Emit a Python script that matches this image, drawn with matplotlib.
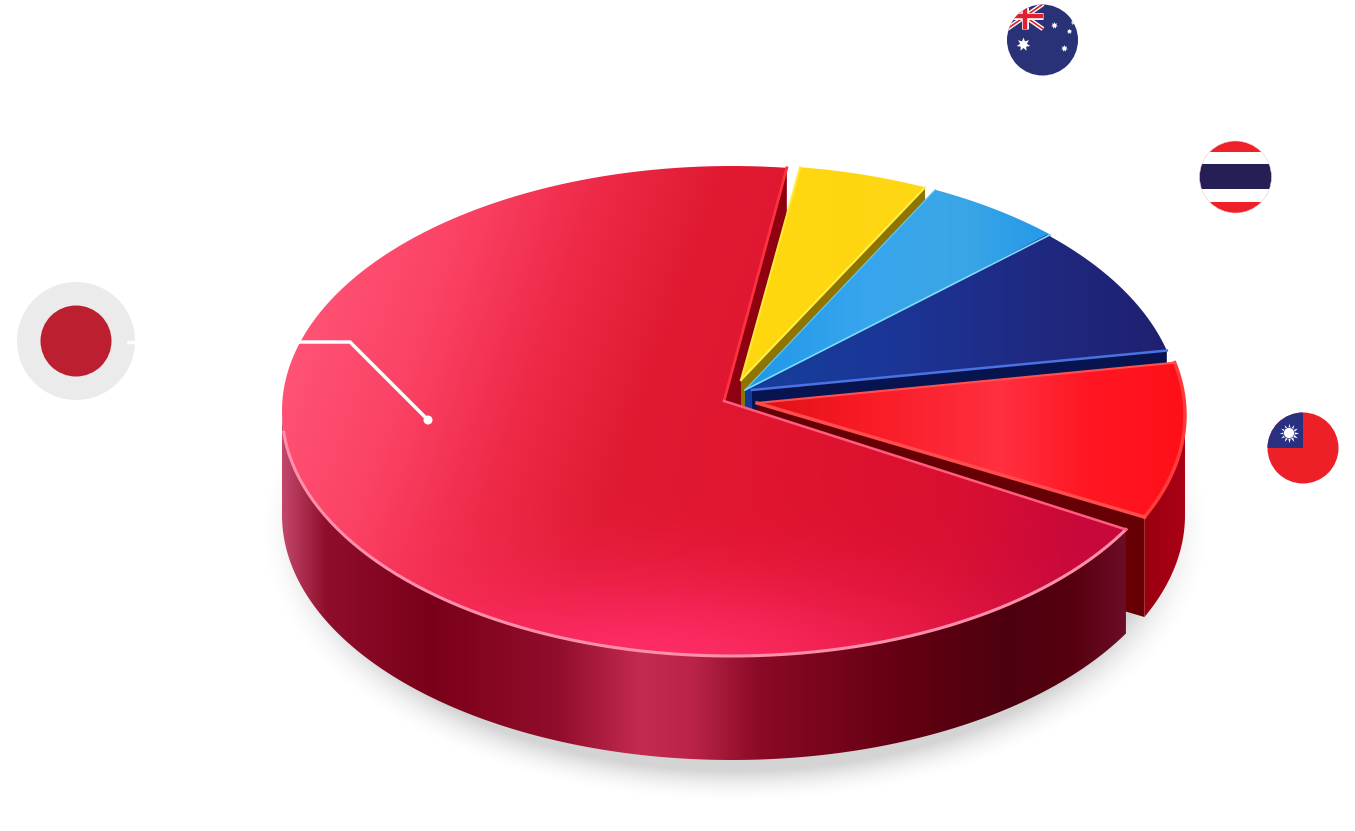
import numpy as np
import matplotlib
matplotlib.use('Agg')
import matplotlib.pyplot as plt
from matplotlib.colors import to_rgb
from matplotlib.patches import Circle, Polygon, Rectangle

# pie data, going counter clockwise from the top edge of the big slice
slices = ['Japan', 'Taiwan', 'Other', 'Thailand', 'Australia']
shares = [70.5, 10.5, 9.0, 5.2, 4.8]
gaps = [0.0, 4.3, 1.7, 0.0, 1.3]
last_gap = 0.8

W, H = 1355, 831
START = 83.0
RY = 245

# layout of each slice in pixels
apex = {'Japan': (724, 401), 'Taiwan': (757, 403), 'Other': (752, 390),
        'Thailand': (745, 390), 'Australia': (741, 380)}
centre = {'Japan': (732, 411), 'Taiwan': (738, 415), 'Other': (739, 410),
          'Thailand': (741, 410), 'Australia': (740, 410)}
radius_x = {'Japan': 450, 'Taiwan': 447, 'Other': 441, 'Thailand': 443, 'Australia': 443}
depth = {'Japan': 104, 'Taiwan': 100, 'Other': 100, 'Thailand': 100, 'Australia': 100}


def rim(name, t0, t1, n=160):
    t = np.radians(np.linspace(t0, t1, n))
    cx, cy = centre[name]
    return cx + radius_x[name] * np.cos(t), cy - RY * np.sin(t)


def gradient_fill(ax, pts, stops, z, glow=None, slant=0.0):
    # horizontal colour stops, clipped to the polygon
    xs = np.arange(0, W, 2.0)
    ys = np.arange(0, H, 2.0)
    X, Y = np.meshgrid(xs, ys)
    U = X + slant * (Y - 400)
    pos = [s[0] for s in stops]
    cols = np.array([to_rgb(s[1]) for s in stops])
    rgb = np.dstack([np.interp(U, pos, cols[:, i]) for i in range(3)])
    if glow is not None:
        gx, gy, sx, sy, col, amount = glow
        w = amount * np.exp(-((X - gx) / sx) ** 2 - ((Y - gy) / sy) ** 2)[..., None]
        rgb = rgb * (1 - w) + np.array(to_rgb(col)) * w
    im = ax.imshow(rgb, extent=(0, W, H, 0), aspect='auto', zorder=z, interpolation='bilinear')
    im.set_clip_path(Polygon(pts, closed=True, transform=ax.transData))


def wedge_pts(name, t0, t1):
    x, y = rim(name, t0, t1)
    return np.vstack([[apex[name]], np.column_stack([x, y])])


def radial_wall(ax, name, t, color, z):
    x, y = rim(name, t, t, 1)
    ax_, ay_ = apex[name]
    d = depth[name]
    ax.add_patch(Polygon([(x[0], y[0]), (ax_, ay_), (ax_, ay_ + d), (x[0], y[0] + d)],
                         closed=True, fc=color, ec='none', zorder=z))


def outer_wall_pts(name, t0, t1):
    x, y = rim(name, t0, t1)
    d = depth[name]
    return np.vstack([np.column_stack([x, y]), np.column_stack([x[::-1], y[::-1] + d])])


fig = plt.figure(figsize=(W / 100, H / 100), dpi=100)
ax = fig.add_axes([0, 0, 1, 1])
ax.axis('off')

# soft shadow under the pie
xs = np.arange(0, W, 2.0)
ys = np.arange(0, H, 2.0)
X, Y = np.meshgrid(xs, ys)
d = np.sqrt(((X - 735) / 458) ** 2 + ((Y - 530) / 262) ** 2)
alpha = 0.17 * np.clip((1.05 - d) / 0.13, 0, 1) ** 2
shadow = np.zeros(X.shape + (4,))
shadow[..., 3] = alpha
ax.imshow(shadow, extent=(0, W, H, 0), aspect='auto', zorder=1, interpolation='bilinear')

# slice angles from the shares
free = 360.0 - sum(gaps) - last_gap
angles = {}
t = START
for name, share, gap in zip(slices, shares, gaps):
    t = t + gap
    angles[name] = (t, t + share / 100 * free)
    t = t + share / 100 * free

# wall inside the big slice, seen through the gap
radial_wall(ax, 'Japan', angles['Japan'][0], '#8f0010', 2)

# yellow
a0, a1 = angles['Australia']
radial_wall(ax, 'Australia', a0, '#8f7400', 3)
gradient_fill(ax, wedge_pts('Australia', a0, a1),
              [(740, '#ffd80f'), (925, '#fed612')], 4)
ay = apex['Australia']
x, y = rim('Australia', a1, a1, 1)
ax.plot([x[0], ay[0]], [y[0], ay[1]], color='#ffe93b', lw=1.5, zorder=5)
x, y = rim('Australia', a0, a0, 1)
ax.plot([x[0], ay[0]], [y[0], ay[1]], color='#fff04a', lw=1.5, zorder=5)

# light blue
a0, a1 = angles['Thailand']
radial_wall(ax, 'Thailand', a0, '#123a98', 6)
gradient_fill(ax, wedge_pts('Thailand', a0, a1),
              [(745, '#1f97e8'), (860, '#37a5ee'), (960, '#3ba6e6'), (1050, '#2498ea')], 7)
x, y = rim('Thailand', a0, a0, 1)
ay = apex['Thailand']
ax.plot([x[0], ay[0]], [y[0], ay[1]], color='#7fdcfa', lw=1.2, zorder=12)
x, y = rim('Thailand', a1, a1, 1)
ax.plot([x[0], ay[0]], [y[0], ay[1]], color='#5fc8f2', lw=0.9, zorder=8)

# navy
a0, a1 = angles['Other']
radial_wall(ax, 'Other', a0, '#071450', 9)
gradient_fill(ax, wedge_pts('Other', a0, a1),
              [(750, '#163f9c'), (900, '#1b3596'), (1050, '#20287f'), (1167, '#1f2070')], 10)
x, y = rim('Other', a0, a0, 1)
ay = apex['Other']
ax.plot([x[0], ay[0]], [y[0], ay[1]], color='#4a72e2', lw=1.8, zorder=11)

# red
a0, a1 = angles['Taiwan']
radial_wall(ax, 'Taiwan', a0, '#660004', 12)
gradient_fill(ax, outer_wall_pts('Taiwan', a0, 360),
              [(1137, '#c4032a'), (1141, '#c4032a'), (1143, '#98000f'), (1185, '#ac0016')], 13)
gradient_fill(ax, wedge_pts('Taiwan', a0, a1),
              [(760, '#e01018'), (860, '#f81a24'), (1000, '#ff3040'), (1090, '#ff1622'), (1185, '#ff1018')], 14)
x, y = rim('Taiwan', a0, a1)
ax.plot(x, y, color='#ff3b3b', lw=2.5, zorder=15)
ay = apex['Taiwan']
ax.plot([x[0], ay[0]], [y[0], ay[1]], color='#ff4d4d', lw=2.5, zorder=15)
ax.plot([x[-1], ay[0]], [y[-1], ay[1]], color='#ff5050', lw=1.5, zorder=15)

# big slice
a0, a1 = angles['Japan']
gradient_fill(ax, outer_wall_pts('Japan', 180, a1),
              [(283, '#c2466a'), (325, '#8f0e2c'), (430, '#7a0019'), (560, '#920e2c'),
               (640, '#c42b50'), (690, '#bb2448'), (760, '#8a0a26'), (900, '#640012'),
               (1010, '#4c000e'), (1070, '#56000f'), (1123, '#6c0c26')], 16)
gradient_fill(ax, wedge_pts('Japan', a0, a1),
              [(282, '#ff5274'), (400, '#fb4264'), (520, '#ee2a48'), (640, '#e01a32'),
               (800, '#e0142e'), (1000, '#d80f30'), (1125, '#c8083a')], 17,
              glow=(640, 660, 300, 85, '#ff2d68', 0.95), slant=0.35)
x, y = rim('Japan', 185, a1)
ax.plot(x, y, color='#ff8fab', lw=2.2, zorder=18)
x, y = rim('Japan', a0, a1)
ay = apex['Japan']
ax.plot([x[0], ay[0]], [y[0], ay[1]], color='#ff3040', lw=2.0, zorder=18)
ax.plot([x[-1], ay[0]], [y[-1], ay[1]], color='#ff5c80', lw=1.8, zorder=18)

# callout from the pie to the marker on the left
ax.add_patch(Circle((76, 341), 59, fc='#ebebeb', ec='none', zorder=2))
ax.add_patch(Circle((76, 341), 35.5, fc='#bc2030', ec='none', zorder=3))
ax.plot([128, 136], [342, 342], color='white', lw=2.5, solid_capstyle='round', zorder=4)
ax.plot([293, 350, 428], [342, 342, 420], color='white', lw=2.5, zorder=20)
ax.add_patch(Circle((428, 420), 4.5, fc='white', ec='none', zorder=21))

# Australia
clip = Circle((1042.5, 40), 35.5, transform=ax.transData)
ax.add_patch(Circle((1042.5, 40), 35.5, fc='#2a3277', ec='none', zorder=3))
for p, q, col, lw in [((1007, 29), (1043, 4), 'white', 3.2), ((1007, 4), (1043, 29), 'white', 3.2),
                      ((1007, 29), (1043, 4), '#e0202c', 1.2), ((1007, 4), (1043, 29), '#e0202c', 1.2),
                      ((1025, 4), (1025, 29), 'white', 5.0), ((1007, 16), (1043, 16), 'white', 5.0),
                      ((1025, 4), (1025, 29), '#e0202c', 3.2), ((1007, 16), (1043, 16), '#e0202c', 3.2)]:
    line, = ax.plot([p[0], q[0]], [p[1], q[1]], color=col, lw=lw, solid_capstyle='butt', zorder=5)
    line.set_clip_path(clip)
for sx, sy, ms in [(1023, 44, 10), (1054, 25, 5), (1069, 31, 4), (1064, 48, 5), (1073, 22, 4)]:
    m, = ax.plot(sx, sy, marker=(7, 1, 0), color='white', ms=ms, mew=0, zorder=6)
    m.set_clip_path(clip)

# Thailand
clip = Circle((1235.5, 177), 36, transform=ax.transData)
for y0, y1, col in [(141, 152, '#ee2028'), (152, 164, 'white'), (164, 189, '#251f55'),
                    (189, 202, 'white'), (202, 214, '#ee2028')]:
    ax.add_patch(Rectangle((1199, y0), 73, y1 - y0, fc=col, ec='none', zorder=3)).set_clip_path(clip)
ax.add_patch(Circle((1235.5, 177), 36, fc='none', ec='#f6c4c8', lw=0.4, zorder=4))

# Taiwan
clip = Circle((1303, 448), 35.5, transform=ax.transData)
ax.add_patch(Circle((1303, 448), 35.5, fc='#ee2027', ec='none', zorder=3))
ax.add_patch(Rectangle((1267, 412), 36, 36, fc='#2a3080', ec='none', zorder=4)).set_clip_path(clip)
ax.plot(1289, 433, marker=(12, 1, 0), color='white', ms=14, mew=0, zorder=5)
ax.add_patch(Circle((1289, 433), 5.5, fc='white', ec='#2a3080', lw=0.5, zorder=6))

ax.set_xlim(0, W)
ax.set_ylim(H, 0)
fig.savefig('out.png', dpi=100, facecolor='white')
